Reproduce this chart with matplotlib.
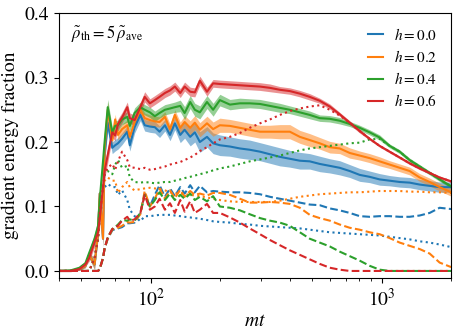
import numpy as np
import matplotlib

matplotlib.use("Agg")
import matplotlib.pyplot as plt

plt.rcParams['font.family'] = ['STIXGeneral', 'DejaVu Serif']
plt.rcParams['mathtext.fontset'] = 'stix'

# time grid (mt)
T = [40, 45, 49, 52, 54, 57, 59, 60, 62, 63,
     65, 68, 70, 72, 75, 79, 81, 85, 90, 94,
     99, 104, 109, 115, 121, 127, 134, 140, 148, 155,
     163, 175, 186, 199, 220, 243, 268, 297, 328, 362,
     400, 442, 488, 539, 596, 658, 727, 803, 887, 980,
     1083, 1197, 1322, 1461, 1614, 1783, 2000]

h_labels = ['0.0', '0.2', '0.4', '0.6']
colors = ['#1f77b4', '#ff7f0e', '#2ca02c', '#d62728']

# total gradient energy fraction (solid)
total_h00 = [0, 0, 0.003, 0.008, 0.025, 0.01, 0.06, 0.12, 0.05, 0.18,
             0.23, 0.191, 0.195, 0.198, 0.205, 0.216, 0.195, 0.223, 0.242, 0.226,
             0.224, 0.223, 0.216, 0.226, 0.211, 0.229, 0.211, 0.219, 0.208, 0.215,
             0.2, 0.208, 0.198, 0.195, 0.193, 0.19, 0.188, 0.185, 0.181, 0.177,
             0.174, 0.171, 0.17, 0.166, 0.163, 0.16, 0.155, 0.149, 0.146, 0.142,
             0.14, 0.138, 0.137, 0.134, 0.132, 0.13, 0.13]
total_h02 = [0, 0, 0.003, 0.008, 0.025, 0.01, 0.06, 0.12, 0.05, 0.19,
             0.25, 0.203, 0.235, 0.211, 0.22, 0.226, 0.208, 0.231, 0.25, 0.237,
             0.234, 0.232, 0.231, 0.239, 0.22, 0.242, 0.222, 0.231, 0.222, 0.23,
             0.219, 0.229, 0.22, 0.226, 0.225, 0.222, 0.219, 0.216, 0.216, 0.216,
             0.216, 0.208, 0.203, 0.198, 0.192, 0.19, 0.183, 0.179, 0.175, 0.17,
             0.165, 0.16, 0.155, 0.145, 0.138, 0.13, 0.122]
total_h04 = [0, 0.001, 0.005, 0.012, 0.028, 0.05, 0.07, 0.11, 0.17, 0.2,
             0.254, 0.215, 0.225, 0.226, 0.235, 0.239, 0.225, 0.245, 0.254, 0.25,
             0.246, 0.24, 0.245, 0.25, 0.252, 0.254, 0.256, 0.245, 0.262, 0.25,
             0.246, 0.262, 0.25, 0.265, 0.258, 0.26, 0.26, 0.259, 0.256, 0.253,
             0.25, 0.246, 0.242, 0.237, 0.236, 0.233, 0.228, 0.222, 0.215, 0.207,
             0.194, 0.185, 0.172, 0.162, 0.152, 0.142, 0.131]
total_h06 = [0, 0, 0.003, 0.01, 0.02, 0.045, 0.06, 0.08, 0.13, 0.155,
             0.18, 0.215, 0.21, 0.228, 0.238, 0.254, 0.237, 0.234, 0.254, 0.27,
             0.26, 0.265, 0.27, 0.276, 0.28, 0.286, 0.276, 0.286, 0.278, 0.277,
             0.295, 0.278, 0.291, 0.29, 0.289, 0.288, 0.287, 0.286, 0.284, 0.281,
             0.279, 0.275, 0.27, 0.264, 0.255, 0.243, 0.23, 0.217, 0.205, 0.194,
             0.185, 0.176, 0.167, 0.159, 0.152, 0.145, 0.139]

# half width of the fluctuation band around the total
spread_h00 = [0.001, 0.001, 0.002, 0.003, 0.005, 0.008, 0.01, 0.012, 0.012, 0.012,
              0.012, 0.009, 0.009, 0.009, 0.009, 0.009, 0.009, 0.009, 0.009, 0.009,
              0.009, 0.009, 0.009, 0.009, 0.009, 0.01, 0.012, 0.013, 0.014, 0.015,
              0.016, 0.016, 0.016, 0.016, 0.015, 0.015, 0.015, 0.014, 0.014, 0.014,
              0.013, 0.013, 0.012, 0.012, 0.011, 0.011, 0.01, 0.01, 0.009, 0.009,
              0.008, 0.008, 0.008, 0.008, 0.008, 0.008, 0.008]
spread_h02 = [0.001, 0.001, 0.002, 0.003, 0.005, 0.008, 0.01, 0.012, 0.012, 0.012,
              0.012, 0.008, 0.008, 0.008, 0.008, 0.008, 0.008, 0.008, 0.008, 0.008,
              0.008, 0.008, 0.008, 0.008, 0.008, 0.008, 0.009, 0.01, 0.011, 0.011,
              0.011, 0.011, 0.011, 0.011, 0.01, 0.01, 0.01, 0.01, 0.01, 0.011,
              0.011, 0.01, 0.01, 0.009, 0.009, 0.008, 0.008, 0.007, 0.007, 0.007,
              0.006, 0.006, 0.006, 0.006, 0.006, 0.006, 0.006]
spread_h04 = [0.001, 0.001, 0.002, 0.003, 0.005, 0.008, 0.01, 0.012, 0.012, 0.012,
              0.012, 0.008, 0.008, 0.008, 0.008, 0.008, 0.008, 0.008, 0.008, 0.008,
              0.008, 0.008, 0.008, 0.008, 0.008, 0.008, 0.009, 0.01, 0.01, 0.01,
              0.01, 0.01, 0.01, 0.009, 0.008, 0.008, 0.007, 0.007, 0.007, 0.007,
              0.006, 0.006, 0.006, 0.005, 0.005, 0.005, 0.004, 0.004, 0.004, 0.004,
              0.003, 0.003, 0.003, 0.003, 0.003, 0.003, 0.003]
spread_h06 = [0.001, 0.001, 0.002, 0.003, 0.005, 0.008, 0.01, 0.012, 0.012, 0.012,
              0.012, 0.008, 0.008, 0.008, 0.008, 0.008, 0.008, 0.008, 0.008, 0.008,
              0.007, 0.007, 0.007, 0.007, 0.007, 0.007, 0.007, 0.007, 0.007, 0.007,
              0.007, 0.007, 0.006, 0.006, 0.006, 0.006, 0.006, 0.006, 0.006, 0.005,
              0.005, 0.005, 0.005, 0.004, 0.004, 0.003, 0.003, 0.003, 0.002, 0.002,
              0.002, 0.002, 0.002, 0.002, 0.002, 0.002, 0.002]

# dotted component
dotted_h00 = [0, 0, 0, 0, 0, 0.02, 0.05, 0.08, 0.115, 0.13,
              0.135, 0.13, 0.13, 0.118, 0.125, 0.11, 0.095, 0.085, 0.077, 0.085,
              0.085, 0.086, 0.087, 0.087, 0.087, 0.086, 0.085, 0.084, 0.083, 0.082,
              0.081, 0.079, 0.077, 0.076, 0.075, 0.073, 0.072, 0.07, 0.069, 0.068,
              0.067, 0.066, 0.064, 0.062, 0.06, 0.059, 0.058, 0.057, 0.056, 0.055,
              0.053, 0.051, 0.049, 0.046, 0.044, 0.041, 0.037]
dotted_h02 = [0, 0, 0, 0, 0, 0.02, 0.05, 0.08, 0.12, 0.14,
              0.145, 0.14, 0.14, 0.121, 0.13, 0.138, 0.13, 0.125, 0.127, 0.128,
              0.129, 0.128, 0.127, 0.125, 0.122, 0.12, 0.12, 0.119, 0.118, 0.117,
              0.116, 0.114, 0.112, 0.11, 0.108, 0.107, 0.107, 0.107, 0.107, 0.109,
              0.112, 0.115, 0.117, 0.119, 0.12, 0.121, 0.122, 0.122, 0.123, 0.124,
              0.124, 0.124, 0.123, 0.123, 0.122, 0.122, 0.121]
dotted_h04 = [0, 0, 0, 0, 0, 0.02, 0.05, 0.09, 0.13, 0.15,
              0.155, 0.15, 0.165, 0.172, 0.16, 0.163, 0.145, 0.138, 0.137, 0.138,
              0.137, 0.136, 0.137, 0.138, 0.138, 0.14, 0.142, 0.144, 0.146, 0.148,
              0.15, 0.153, 0.156, 0.159, 0.162, 0.166, 0.17, 0.173, 0.176, 0.179,
              0.183, 0.187, 0.19, 0.192, 0.194, 0.196, 0.198, 0.199, 0.204, 0.205,
              0.194, 0.185, 0.172, 0.162, 0.152, 0.142, 0.131]
dotted_h06 = [0, 0, 0, 0, 0, 0.02, 0.05, 0.09, 0.13, 0.15,
              0.16, 0.166, 0.157, 0.17, 0.185, 0.172, 0.161, 0.16, 0.158, 0.16,
              0.157, 0.158, 0.16, 0.162, 0.165, 0.167, 0.169, 0.172, 0.176, 0.18,
              0.186, 0.192, 0.198, 0.204, 0.208, 0.214, 0.222, 0.229, 0.235, 0.242,
              0.248, 0.252, 0.255, 0.257, 0.25, 0.241, 0.23, 0.217, 0.205, 0.194,
              0.185, 0.176, 0.167, 0.159, 0.152, 0.145, 0.139]

# dashed component
dashed_h00 = [0, 0, 0, 0, 0, 0, 0, 0.003, 0.02, 0.035,
              0.05, 0.063, 0.065, 0.066, 0.068, 0.074, 0.074, 0.075, 0.09, 0.12,
              0.1, 0.118, 0.133, 0.115, 0.128, 0.116, 0.13, 0.12, 0.133, 0.122,
              0.132, 0.122, 0.124, 0.123, 0.122, 0.122, 0.121, 0.119, 0.115, 0.112,
              0.109, 0.106, 0.103, 0.102, 0.097, 0.094, 0.09, 0.085, 0.084, 0.085,
              0.085, 0.084, 0.084, 0.086, 0.09, 0.098, 0.096]
dashed_h02 = [0, 0, 0, 0, 0, 0, 0, 0.003, 0.02, 0.035,
              0.05, 0.064, 0.066, 0.067, 0.07, 0.076, 0.075, 0.076, 0.088, 0.124,
              0.1, 0.112, 0.128, 0.112, 0.125, 0.113, 0.126, 0.115, 0.124, 0.118,
              0.12, 0.117, 0.121, 0.121, 0.118, 0.112, 0.106, 0.106, 0.107, 0.106,
              0.104, 0.098, 0.087, 0.082, 0.078, 0.072, 0.067, 0.064, 0.06, 0.057,
              0.051, 0.044, 0.039, 0.034, 0.027, 0.013, 0.006]
dashed_h04 = [0, 0, 0, 0, 0, 0, 0, 0.003, 0.02, 0.035,
              0.052, 0.065, 0.068, 0.072, 0.079, 0.078, 0.08, 0.078, 0.09, 0.118,
              0.1, 0.11, 0.122, 0.11, 0.12, 0.11, 0.118, 0.112, 0.12, 0.11,
              0.115, 0.108, 0.116, 0.1, 0.098, 0.094, 0.088, 0.082, 0.078, 0.075,
              0.07, 0.06, 0.05, 0.044, 0.038, 0.03, 0.023, 0.016, 0.008, 0.002,
              0, 0, 0, 0, 0, 0, 0]
dashed_h06 = [0, 0, 0, 0, 0, 0, 0, 0.003, 0.02, 0.035,
              0.052, 0.065, 0.068, 0.07, 0.078, 0.084, 0.078, 0.08, 0.09, 0.118,
              0.095, 0.1, 0.112, 0.095, 0.105, 0.09, 0.11, 0.092, 0.108, 0.09,
              0.095, 0.104, 0.09, 0.09, 0.083, 0.075, 0.066, 0.057, 0.048, 0.04,
              0.032, 0.025, 0.018, 0.011, 0.005, 0.002, 0, 0, 0, 0,
              0, 0, 0, 0, 0, 0, 0]

totals = [total_h00, total_h02, total_h04, total_h06]
spreads = [spread_h00, spread_h02, spread_h04, spread_h06]
dotteds = [dotted_h00, dotted_h02, dotted_h04, dotted_h06]
dasheds = [dashed_h00, dashed_h02, dashed_h04, dashed_h06]

fig = plt.figure(figsize=(4.58, 3.35), dpi=100)
ax = fig.add_axes([0.129, 0.170, 0.856, 0.791])

t = np.array(T)
for lab, c, tot, sp, dot, dash in zip(h_labels, colors, totals, spreads, dotteds, dasheds):
    tot = np.array(tot)
    sp = np.array(sp)
    ax.fill_between(t, tot - sp, tot + sp, color=c, alpha=0.5, lw=0)
    ax.plot(t, tot, color=c, lw=1.5, label=r'$h=%s$' % lab)
    ax.plot(t, dot, color=c, lw=1.5, ls=':')
    ax.plot(t, dash, color=c, lw=1.5, ls='--')

ax.set_xscale('log')
ax.set_xlim(40, 2000)
ax.set_ylim(-0.011, 0.4)
ax.set_yticks([0.0, 0.1, 0.2, 0.3, 0.4])
ax.set_yticklabels(['0.0', '0.1', '0.2', '0.3', '0.4'])
ax.tick_params(labelsize=14)
ax.set_xlabel(r'$mt$', fontsize=14, labelpad=2)
ax.set_ylabel('gradient energy fraction', fontsize=14)

ax.text(0.03, 0.905, r'$\tilde{\rho}_{\rm th}=5\,\tilde{\rho}_{\rm ave}$',
        transform=ax.transAxes, fontsize=12, va='baseline', ha='left')

ax.legend(loc='upper right', frameon=False, fontsize=11, handlelength=1.0,
          labelspacing=0.4, handletextpad=0.7)

fig.savefig('out.png', dpi=100)
